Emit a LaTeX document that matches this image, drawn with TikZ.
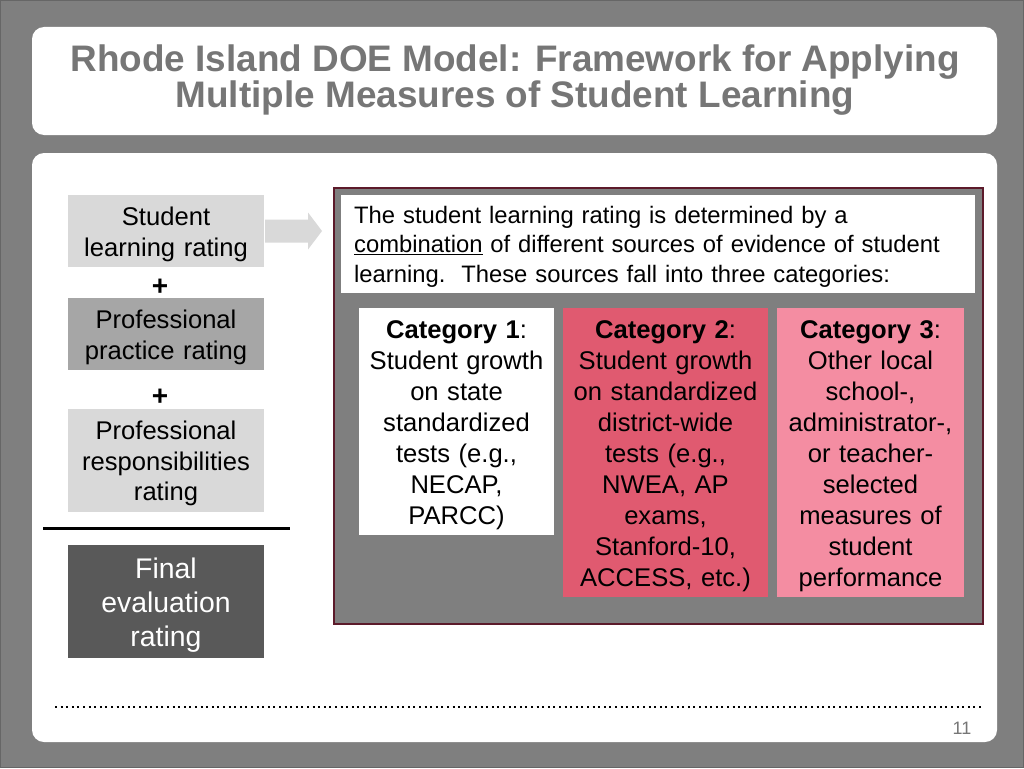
\documentclass[tikz,border=0pt]{standalone}
\usepackage{fontspec}
\setmainfont{Liberation Sans}
\usetikzlibrary{positioning}
\definecolor{slidegray}{HTML}{7F7F7F}
\definecolor{titlegray}{HTML}{767676}
\definecolor{lightbox}{HTML}{D9D9D9}
\definecolor{midbox}{HTML}{A6A6A6}
\definecolor{darkbox}{HTML}{595959}
\definecolor{framered}{HTML}{5C1A2A}
\definecolor{cattwo}{HTML}{E05A70}
\definecolor{catthree}{HTML}{F48DA2}
\newcommand\pxfont[2]{\fontsize{#1}{#2}\selectfont}
\tikzset{
  panel/.style={fill=white, rounded corners=12pt},
  lowered/.style={execute at begin node={\rule{0pt}{#1}}},
  rating/.style={minimum width=196pt, text width=190pt, align=center, inner sep=0pt,
    font=\pxfont{25.6}{30.5}, lowered=25pt},
  plus/.style={font=\pxfont{28}{30}\bfseries, inner sep=0pt},
  category/.style={anchor=north, minimum height=#1, inner sep=0pt, align=center,
    font=\pxfont{25.6}{31}, lowered=25pt},
}
\begin{document}
\begin{tikzpicture}[x=1pt,y=-1pt]
\useasboundingbox (0,0) rectangle (1024,768);
\fill[slidegray] (0,0) rectangle (1024,768);
\draw[black!60, line width=1pt] (0.5,0.5) rectangle (1023.5,767.5);
\fill[panel] (32,27) rectangle (997,135);
\fill[panel] (32,153) rectangle (997,742);
\node[text=titlegray, font=\pxfont{36.9}{36}\bfseries, align=center] (title) at (515,80)
  {Rhode Island DOE Model: Framework for Applying\\Multiple Measures of Student Learning};

% left column
\node[rating, fill=lightbox, minimum height=72pt] (stud) at (166,231) {Student\\learning rating};
\node[plus] (plusa) at (160,287) {+};
\node[rating, fill=midbox, minimum height=72pt] (prac) at (166,334) {Professional\\practice rating};
\node[plus] (plusb) at (160,397) {+};
\node[rating, fill=lightbox, minimum height=103pt] (resp) at (166,460.5) {Professional\\responsibilities\\rating};
\coordinate (rulel) at (43,528);
\coordinate (ruler) at (290,528);
\draw[line width=3pt] (rulel) -- (ruler);
\node[rating, fill=darkbox, text=white, minimum height=113pt, font=\pxfont{28.4}{34}, lowered=27pt] (final) at (166,601.5)
  {Final\\evaluation\\rating};

% right frame
\node[draw=framered, line width=2pt, fill=slidegray, minimum width=649pt, minimum height=436pt,
  anchor=north west, inner sep=0pt] (frame) at (333,187) {};
\node[fill=white, anchor=north west, minimum width=632pt, minimum height=98pt, text width=608pt,
  inner xsep=13pt, inner ysep=0pt, align=left, font=\pxfont{23.8}{29.5}, lowered=22pt] (intro) at (341,195)
  {The student learning rating is determined by a\\
   \underline{combination} of different sources of evidence of student\\
   learning.\ \ These sources fall into three categories:};
\node[category=227pt, fill=white, minimum width=195pt, text width=190pt] (cat1) at (456.5,308)
  {\textbf{Category 1}:\\Student growth\\on state\\standardized\\tests (e.g.,\\NECAP,\\PARCC)};
\node[category=289pt, fill=cattwo, minimum width=205pt, text width=200pt] (cat2) at (665.5,308)
  {\textbf{Category 2}:\\Student growth\\on standardized\\district-wide\\tests (e.g.,\\NWEA, AP\\exams,\\Stanford-10,\\ACCESS, etc.)};
\node[category=289pt, fill=catthree, minimum width=187pt, text width=184pt] (cat3) at (870.5,308)
  {\textbf{Category 3}:\\Other local\\school-,\\administrator-,\\or teacher-\\selected\\measures of\\student\\performance};

% block arrow
\coordinate (arra) at ([xshift=1pt]stud.east);
\coordinate (arrb) at ([xshift=-11pt]frame.west |- stud.east);
\fill[lightbox] ([yshift=-11.5pt]arra) -- ([yshift=-11.5pt,xshift=-14pt]arrb) -- ([yshift=-18.5pt,xshift=-14pt]arrb)
  -- (arrb) -- ([yshift=18.5pt,xshift=-14pt]arrb) -- ([yshift=11.5pt,xshift=-14pt]arrb) -- ([yshift=11.5pt]arra) -- cycle;

% footer
\coordinate (dotl) at (55,707);
\coordinate (dotr) at (982,707);
\draw[line width=2.6pt, dash pattern=on 2pt off 3.6pt] (dotl) -- (dotr);
\node[text=titlegray, font=\pxfont{18}{20}] (pagenum) at (962,728) {11};
\end{tikzpicture}
\end{document}
